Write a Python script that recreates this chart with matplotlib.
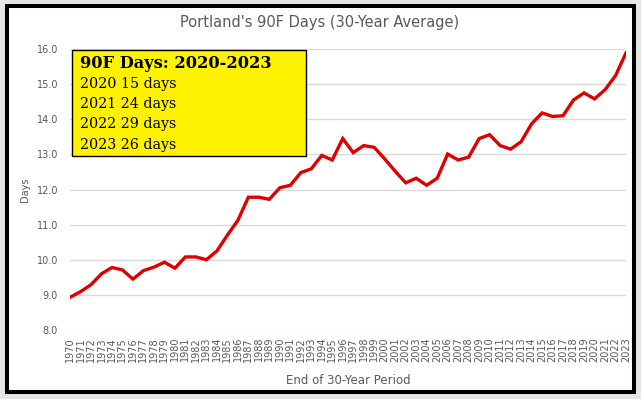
import matplotlib
matplotlib.use("Agg")
import matplotlib.pyplot as plt
from matplotlib.patches import Rectangle

# 30-year running average of 90F days, by end year of the period
years = list(range(1970, 2024))
days = [
    8.93, 9.09, 9.29, 9.60, 9.78, 9.71, 9.45, 9.69, 9.79, 9.93,
    9.76, 10.08, 10.08, 10.00, 10.25, 10.70, 11.12, 11.78, 11.78, 11.72,
    12.05, 12.12, 12.48, 12.59, 12.97, 12.84, 13.45, 13.05, 13.25, 13.20,
    12.87, 12.52, 12.19, 12.32, 12.12, 12.32, 13.01, 12.84, 12.92, 13.45,
    13.56, 13.25, 13.15, 13.36, 13.87, 14.18, 14.08, 14.10, 14.55, 14.75,
    14.58, 14.84, 15.24, 15.89,
]
yticks = [8.0, 9.0, 10.0, 11.0, 12.0, 13.0, 14.0, 15.0, 16.0]

box_title = "90F Days: 2020-2023"
box_lines = ["2020 15 days", "2021 24 days", "2022 29 days", "2023 26 days"]

W, H = 641, 399
fig = plt.figure(figsize=(W / 100, H / 100), dpi=100)
fig.patch.set_facecolor("#e6e6e6")

# white card with thick black frame (behind the axes)
fig.patches.append(Rectangle((7 / W, 7.5 / H), 627 / W, 385.5 / H,
                             transform=fig.transFigure, facecolor="white",
                             edgecolor="black", linewidth=2.9, zorder=-1))

ax = fig.add_axes([70 / W, 69 / H, 556 / W, 281 / H])
ax.set_zorder(1)
ax.set_facecolor("none")
ax.plot(years, days, color="#e00000", linewidth=2.4, solid_joinstyle="miter", zorder=3)

ax.set_xlim(1970, 2023)
ax.set_ylim(8, 16)
ax.set_yticks(yticks)
ax.set_yticklabels([f"{v:.1f}" for v in yticks])
ax.set_xticks(years)
ax.set_xticklabels([str(y) for y in years], rotation=90)
ax.tick_params(axis="both", length=0, labelsize=7, colors="#595959")
ax.tick_params(axis="y", pad=8.6)
ax.tick_params(axis="x", pad=5)
ax.grid(axis="y", color="#d9d9d9", linewidth=1)
for s in ax.spines.values():
    s.set_visible(False)

ax.set_ylabel("Days", fontsize=7, color="#595959", labelpad=5)
ax.set_xlabel("End of 30-Year Period", fontsize=8.5, color="#595959", labelpad=9)

fig.text(320 / W, 1 - 22 / H, "Portland's 90F Days (30-Year Average)",
         ha="center", va="center", fontsize=10.5, color="#595959")

# yellow annotation box
fig.patches.append(Rectangle((72 / W, 1 - 155.5 / H), 234 / W, 106 / H,
                             transform=fig.transFigure, facecolor="#fff200",
                             edgecolor="black", linewidth=1.0, zorder=5))
fig.text(80 / W, 1 - 63 / H, box_title, ha="left", va="center",
         fontsize=11.7, fontweight="bold", family="DejaVu Serif", zorder=6)
for i, line in enumerate(box_lines):
    fig.text(80 / W, 1 - (84 + 20.2 * i) / H, line, ha="left", va="center",
             fontsize=10.3, family="DejaVu Serif", zorder=6)

fig.savefig("out.png", dpi=100, facecolor=fig.get_facecolor())
